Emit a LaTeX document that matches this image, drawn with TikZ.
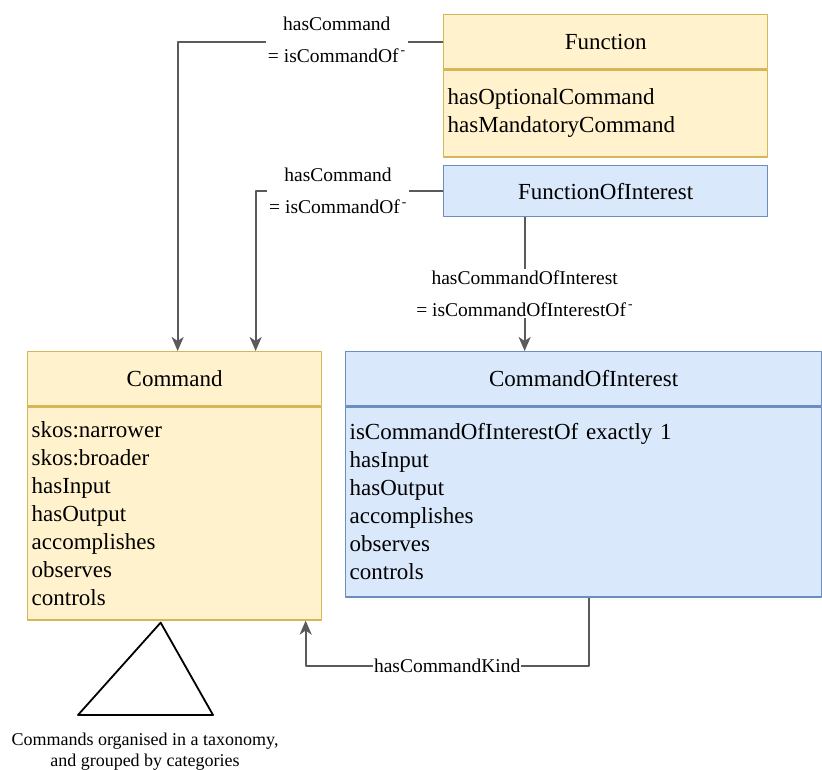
\documentclass[tikz,border=0pt]{standalone}
\usepackage{fontspec}
\setmainfont{Liberation Serif}
\usetikzlibrary{arrows.meta,positioning}
\definecolor{ylwfill}{HTML}{FFF2CC}
\definecolor{ylwline}{HTML}{D6B656}
\definecolor{bluefill}{HTML}{DAE8FC}
\definecolor{blueline}{HTML}{6C8EBF}
\definecolor{linkgray}{HTML}{5A5A5A}
\newcommand{\inv}{\kern2pt\textsuperscript{-}}
\begin{document}
\begin{tikzpicture}[x=1pt,y=-1pt,line join=round,
		ylw/.style={fill=ylwfill,draw=ylwline,line width=1.3pt},
		blu/.style={fill=bluefill,draw=blueline,line width=1.3pt},
		head/.style={anchor=north west,minimum height=54pt,inner sep=0pt,font=\fontsize{23}{28}\selectfont},
		body/.style={anchor=north,align=left,inner sep=0pt,font=\fontsize{23}{28}\selectfont},
		link/.style={draw=linkgray,line width=2pt,-{Stealth[length=14pt,width=12pt,inset=4pt]}},
		lbl/.style={fill=white,inner sep=2pt,align=center,font=\fontsize{19.5}{32}\selectfont}]
		\useasboundingbox (0,0) rectangle (822,770);
		% Klassen
		\node[head,ylw,minimum width=324pt] (func) at (443,14) {Function};
		\node[body,ylw,minimum width=324pt,minimum height=87pt,text width=316pt] (funcb) at (func.south) {hasOptionalCommand\\hasMandatoryCommand};
		\node[head,blu,minimum width=324pt,minimum height=51pt] (foi) at (443,165) {FunctionOfInterest};
		\node[head,ylw,minimum width=294pt] (cmd) at (27,351) {Command};
		\node[body,ylw,minimum width=294pt,minimum height=213pt,text width=286pt] (cmdb) at (cmd.south)
			{skos:narrower\\skos:broader\\hasInput\\hasOutput\\accomplishes\\observes\\controls};
		\node[head,blu,minimum width=476pt] (coi) at (345,351) {CommandOfInterest};
		\node[body,blu,minimum width=476pt,minimum height=190pt,text width=468pt] (coib) at (coi.south)
			{isCommandOfInterestOf exactly 1\\hasInput\\hasOutput\\accomplishes\\observes\\controls};
		% Beziehungen
		\draw[link] (func.west) -| node[lbl,pos=0.2,yshift=2pt]{hasCommand\\= isCommandOf\inv} ([xshift=3pt]cmd.north);
		\draw[link] (foi.west) -| node[lbl,pos=0.28]{hasCommand\\= isCommandOf\inv} ([xshift=81pt]cmd.north);
		\draw[link] ([xshift=-81pt]foi.south) -- node[lbl,pos=0.57]{hasCommandOfInterest\\= isCommandOfInterestOf\inv} ([xshift=-81pt]foi.south |- coi.north);
		\draw[link] ([xshift=5pt]coib.south) -- ++(0,68) -| node[lbl,pos=0.25,inner sep=1pt]{hasCommandKind} ([xshift=131pt]cmdb.south);
		% Taxonomie
		\draw[line width=1.8pt] ([xshift=-14pt,yshift=-2pt]cmdb.south) coordinate (apex) -- (213,715) -- (78,715) -- cycle;
		\node[align=center,font=\fontsize{18}{21}\selectfont] (tax) at (145,752) {Commands organised in a taxonomy,\\and grouped by categories};
\end{tikzpicture}
\end{document}
